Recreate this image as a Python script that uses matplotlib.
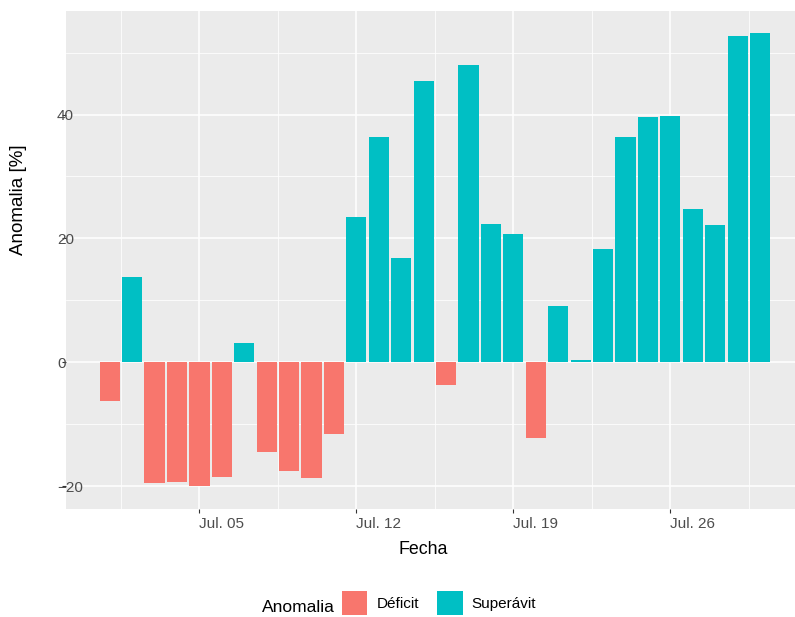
import matplotlib.pyplot as plt
import matplotlib.dates as mdates
from matplotlib.patches import Patch
import numpy as np
import pandas as pd

# fechas y anomalia diaria (%)
fechas = pd.date_range('2021-07-01', '2021-07-30', freq='D')
anomalia = [-6.2, 13.8, -19.4, -19.3, -19.9, -18.5, 3.1, -14.4, -17.6, -18.6,
            -11.5, 23.4, 36.3, 16.8, 45.4, -3.6, 48.0, 22.3, 20.7, -12.2,
            9.1, 0.4, 18.3, 36.3, 39.6, 39.7, 24.7, 22.1, 52.6, 53.1]
categorias = ['Déficit', 'Superávit']
colores = {'Déficit': '#F8766D', 'Superávit': '#00BFC4'}
ticks_x = pd.to_datetime(['2021-07-05', '2021-07-12', '2021-07-19', '2021-07-26'])
ticks_y = [-20, 0, 20, 40]

plt.rcParams['font.family'] = ['Liberation Sans', 'DejaVu Sans']

W, H = 795, 617
fig = plt.figure(figsize=(W / 100, H / 100), dpi=100)
ax = fig.add_axes([66 / W, (H - 509.3) / H, (W - 66) / W, (509.3 - 11) / H])
ax.set_facecolor('#EBEBEB')
for s in ax.spines.values():
    s.set_visible(False)

tipo = ['Superávit' if v >= 0 else 'Déficit' for v in anomalia]
ax.bar(fechas, anomalia, width=0.9, color=[colores[t] for t in tipo], zorder=3)

x0 = mdates.date2num(fechas[0])
ax.set_xlim(x0 - 1.95, x0 + 30.56)
ax.set_ylim(-23.7, 56.7)

# rejilla estilo ggplot
ax.set_xticks(ticks_x)
ax.xaxis.set_major_formatter(mdates.DateFormatter('%b. %d'))
ax.set_xticks([mdates.date2num(t) - 3.5 for t in ticks_x] + [mdates.date2num(ticks_x[-1]) + 3.5], minor=True)
ax.set_yticks(ticks_y)
ax.set_yticks([-10, 10, 30, 50], minor=True)
ax.grid(which='major', color='white', linewidth=1.1, zorder=0)
ax.grid(which='minor', color='white', linewidth=0.55, zorder=0)
ax.set_axisbelow(True)

ax.tick_params(axis='both', which='major', length=2.75, width=0.8, color='#333333',
               labelcolor='#4D4D4D', labelsize=11)
ax.tick_params(axis='both', which='minor', length=0)
ax.tick_params(axis='x', pad=2.5)
ax.tick_params(axis='y', pad=3.75)
for lab in ax.get_xticklabels():
    lab.set_ha('left')
for lab in ax.get_yticklabels():
    lab.set_ha('left')

fig.text(423 / W, 1 - 549 / H, 'Fecha', ha='center', va='center', fontsize=12.8)
fig.text(19 / W, 1 - 200 / H, 'Anomalia [%]', ha='center', va='center', fontsize=13.5, rotation=90)

# leyenda inferior
fig.text(262 / W, 1 - 607 / H, 'Anomalia', ha='left', va='center', fontsize=12.5)
handles = [Patch(facecolor=colores[c], edgecolor='none', label=c) for c in categorias]
leg = fig.legend(handles=handles, loc='center left', bbox_to_anchor=(336 / W, 1 - 603 / H),
                 ncol=2, frameon=False, fontsize=11, handlelength=1.65, handleheight=2.1,
                 handletextpad=0.6, columnspacing=1.2, borderaxespad=0)

fig.savefig('out.png', dpi=100)
